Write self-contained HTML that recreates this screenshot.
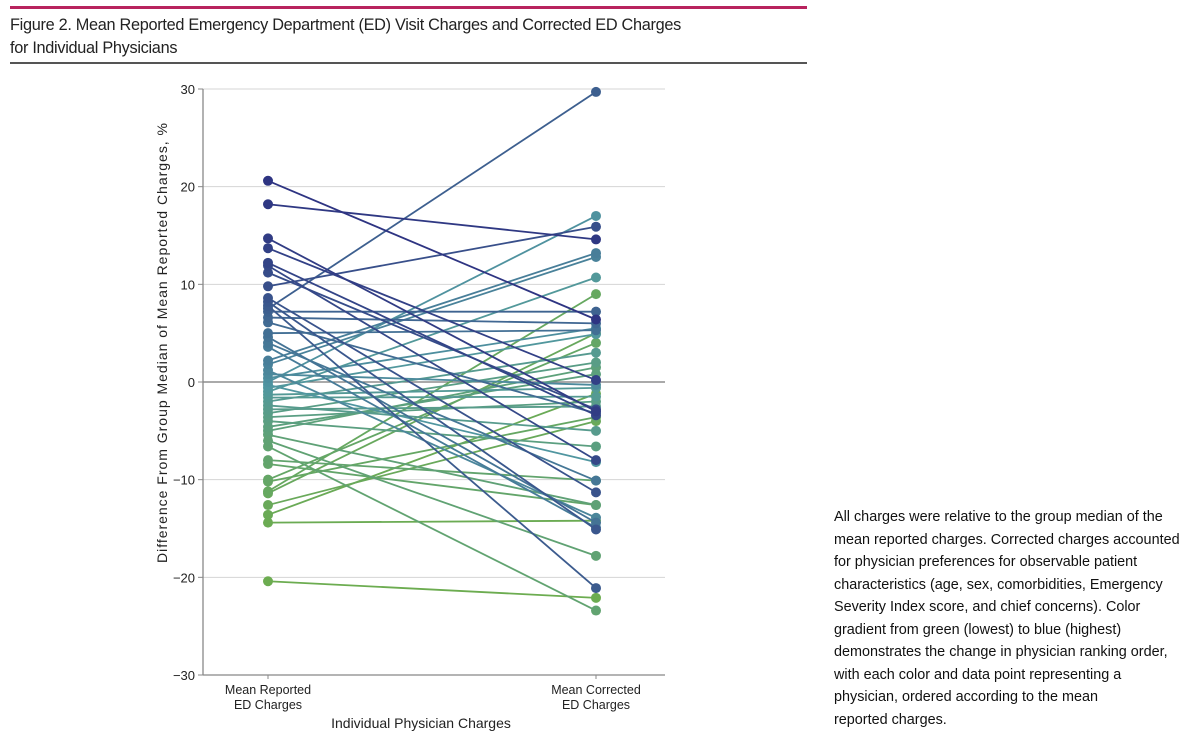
<!DOCTYPE html>
<html><head><meta charset="utf-8">
<style>
body{margin:0;background:#fff;width:1200px;height:752px;overflow:hidden;position:relative;font-family:"Liberation Sans",sans-serif;color:#222}
.title{position:absolute;left:10px;font-size:16.3px;line-height:23px;letter-spacing:-0.3px}
.note{position:absolute;left:834px;top:506px;width:370px;font-family:"Liberation Sans",sans-serif;font-size:14.4px;line-height:22.5px;color:#111;white-space:nowrap}
</style></head><body>
<div style="position:absolute;left:10px;top:6px;width:797px;height:3px;background:#b8235e"></div>
<div class="title" style="top:14px">Figure 2. Mean Reported Emergency Department (ED) Visit Charges and Corrected ED Charges<br>for Individual Physicians</div>
<div style="position:absolute;left:10px;top:62px;width:797px;height:2px;background:#555"></div>
<svg id="chart" width="1200" height="752" style="position:absolute;left:0;top:0"></svg>
<div class="note">All charges were relative to the group median of the<br>mean reported charges. Corrected charges accounted<br>for physician preferences for observable patient<br>characteristics (age, sex, comorbidities, Emergency<br>Severity Index score, and chief concerns). Color<br>gradient from green (lowest) to blue (highest)<br>demonstrates the change in physician ranking order,<br>with each color and data point representing a<br>physician, ordered according to the mean<br>reported charges.</div>
<script>
const categories=["Mean Reported\nED Charges","Mean Corrected\nED Charges"];
const yTicks=[30,20,10,0,-10,-20,-30];
const reported=[20.6,18.2,14.7,13.7,12.2,11.9,11.2,9.8,8.6,8.2,7.8,7.5,7.2,6.6,6.1,5.0,4.6,4.0,3.6,2.2,1.8,1.2,0.8,0.4,0.0,-0.3,-0.6,-1.0,-1.3,-1.6,-2.0,-2.4,-2.8,-3.2,-3.6,-4.0,-4.6,-5.0,-5.4,-6.0,-6.6,-8.0,-8.4,-10.0,-10.2,-11.2,-11.4,-12.6,-13.6,-14.4,-20.4];
const corrected=[6.4,14.6,-3.0,0.2,-3.4,-8.0,-2.8,15.9,-11.3,-15.1,-21.1,29.7,7.2,6.0,-3.2,5.3,-14.4,-10.1,-14.9,13.2,12.8,-13.9,-0.3,5.5,17.0,-8.2,4.9,10.7,-0.6,-1.5,3.0,-5.0,-2.5,2.0,-2.0,-6.6,0.8,1.5,-12.6,-17.8,-23.4,-10.1,-12.6,4.0,-3.6,9.0,5.0,-4.0,-1.2,-14.2,-22.1];
const svg=document.getElementById('chart');
const NS='http://www.w3.org/2000/svg';
const x0=203,x1=665,yTop=89,yBot=675,xL=268,xR=596;
const FF='"Liberation Sans",sans-serif';
function y(v){return yBot-(v+30)/60*(yBot-yTop);}
function mk(t,a){const e=document.createElementNS(NS,t);for(const k in a)e.setAttribute(k,a[k]);svg.appendChild(e);return e;}
yTicks.forEach(t=>{
 const g=mk('line',{x1:x0,x2:x1,y1:y(t),y2:y(t),stroke:t===0?'#777':'#d4d4d4','stroke-width':t===0?1.3:1});
 
 
 mk('line',{x1:x0-5,x2:x0,y1:y(t),y2:y(t),stroke:'#888'});
 const tx=mk('text',{x:x0-8,y:y(t)+5,'text-anchor':'end','font-size':13,'font-family':FF,fill:'#222'});
 tx.textContent=(t<0?'\u2212':'')+Math.abs(t);
 
 
});
mk('line',{x1:x0,x2:x0,y1:yTop,y2:yBot,stroke:'#888','stroke-width':1.3});
mk('line',{x1:x0,x2:x1,y1:yBot,y2:yBot,stroke:'#888','stroke-width':1.3});
[xL,xR].forEach((cx,i)=>{
 mk('line',{x1:cx,x2:cx,y1:yBot,y2:yBot+4,stroke:'#888'});
 categories[i].split('\n').forEach((s,j)=>{
  const tx=mk('text',{x:cx,y:yBot+19+j*15,'text-anchor':'middle','font-size':12.5,'font-family':FF,fill:'#222'});
  tx.textContent=s;
  
  
 });
});
const xt=mk('text',{x:421,y:728,'text-anchor':'middle','font-size':14,'font-family':FF,fill:'#222'});
xt.textContent='Individual Physician Charges';


const yt=mk('text',{x:0,y:0,'text-anchor':'middle','font-size':14,'font-family':FF,fill:'#222',textLength:440,lengthAdjust:'spacing',transform:'translate(167,343) rotate(-90)'});
yt.textContent='Difference From Group Median of Mean Reported Charges, %';


const n=reported.length;
function col(i){const t=i/(n-1);const a=[46,52,130],m=[80,150,160],b=[108,172,80];
 let c;if(t<0.5){const u=t/0.5;c=a.map((v,k)=>v+(m[k]-v)*u);}else{const u=(t-0.5)/0.5;c=m.map((v,k)=>v+(b[k]-v)*u);}
 return 'rgb('+c.map(Math.round).join(',')+')';}
for(let i=n-1;i>=0;i--){
 const c=col(i);
 const l=mk('line',{x1:xL,y1:y(reported[i]),x2:xR,y2:y(corrected[i]),stroke:c,'stroke-width':1.8});
 
 
 const p1=mk('circle',{cx:xL,cy:y(reported[i]),r:5,fill:c});
 
 
 const p2=mk('circle',{cx:xR,cy:y(corrected[i]),r:5,fill:c});
 
 
}
</script>
</body></html>
